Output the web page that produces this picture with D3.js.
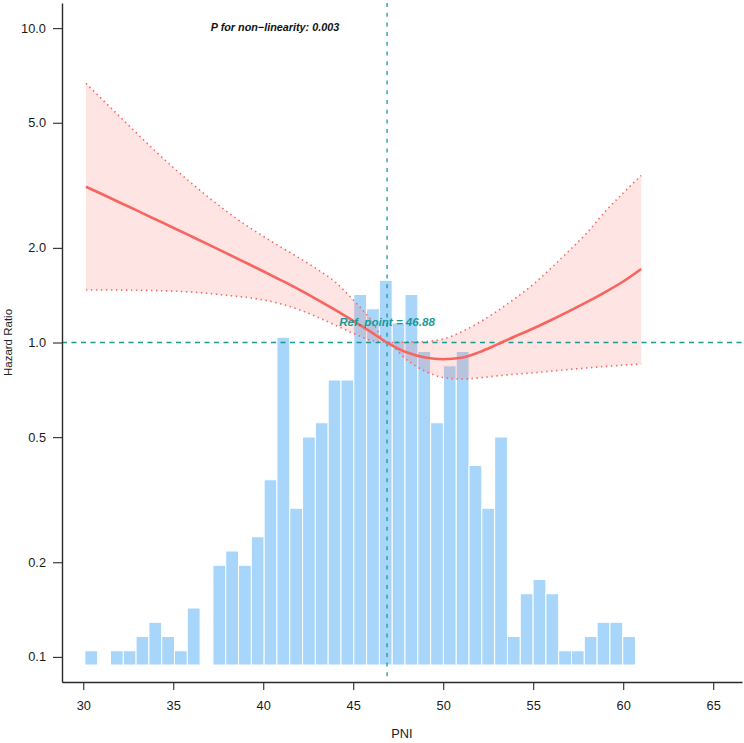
<!DOCTYPE html>
<html>
<head>
<meta charset="utf-8">
<script src="https://cdn.jsdelivr.net/npm/d3@7"></script>
<style>
  html, body { margin: 0; padding: 0; background: #fff; }
  svg { display: block; font-family: Arial, "Liberation Sans", Helvetica, sans-serif; }
</style>
</head>
<body>
<svg id="chart" width="744" height="743"></svg>
<script>
// ---------- data ----------
const pni = [30.15, 31, 32, 33, 34, 35, 36, 37, 38, 39, 40, 41, 42, 43, 44, 45, 46, 46.88,
             48, 49, 50, 51, 52, 53, 54, 55, 56, 57, 58, 59, 60, 61];
const hr = [3.130, 2.972, 2.794, 2.626, 2.467, 2.318, 2.177, 2.044, 1.918, 1.798, 1.685, 1.577,
            1.473, 1.370, 1.270, 1.172, 1.079, 1.000, 0.929, 0.896, 0.885, 0.894, 0.932, 0.986,
            1.047, 1.108, 1.179, 1.259, 1.346, 1.447, 1.563, 1.713];
const hrLower = [1.469, 1.469, 1.468, 1.466, 1.463, 1.457, 1.447, 1.432, 1.412, 1.393, 1.366, 1.326,
                 1.272, 1.205, 1.136, 1.070, 1.016, 1.000, 0.878, 0.810, 0.774, 0.765, 0.772, 0.783,
                 0.793, 0.801, 0.811, 0.821, 0.830, 0.839, 0.847, 0.854];
const hrUpper = [6.674, 5.972, 5.253, 4.614, 4.066, 3.603, 3.216, 2.885, 2.604, 2.371, 2.177, 2.008,
                 1.857, 1.710, 1.557, 1.365, 1.179, 1.000, 1.003, 1.007, 1.026, 1.080, 1.158, 1.259,
                 1.382, 1.531, 1.726, 1.960, 2.238, 2.610, 2.989, 3.398];
const binStart = 30.09;
const binWidth = 0.7115;
const binCounts = [1, 0, 1, 1, 2, 3, 2, 1, 4, 0,
                   7, 8, 7, 9, 13, 23, 11, 16, 17, 20,
                   20, 26, 25, 27, 24, 26, 22, 17, 21, 22,
                   14, 11, 16, 2, 5, 6, 5, 1, 1, 2,
                   3, 3, 2];
const xTicks = [30, 35, 40, 45, 50, 55, 60, 65];
const yTicks = [0.1, 0.2, 0.5, 1, 2, 5, 10];
const refPoint = 46.88;
const refHR = 1;
const pLabel = "P for non\u2212linearity: 0.003";
const refLabel = "Ref. point = 46.88";
const xLabel = "PNI";
const yLabel = "Hazard Ratio";

// ---------- layout ----------
const svg = d3.select("#chart");
const pL = 62, pR = 742, pT = 3, pB = 682;

const x = d3.scaleLinear().domain([28.82, 66.6]).range([pL, pR]);
const y = d3.scaleLog().domain([0.0832, 12.02]).range([pB, pT]);
const yHist = d3.scaleLinear().domain([0, d3.max(binCounts)]).range([665, 665 - 14.25 * d3.max(binCounts)]);

const colRed = "#f8645f";
const colTeal = "#1b9893";
const colBar = "#a8d6fb";

// histogram
const bins = binCounts.map((c, i) => ({ x0: binStart + i * binWidth, x1: binStart + (i + 1) * binWidth, c }));
svg.append("g").selectAll("rect")
  .data(bins.filter(d => d.c > 0))
  .join("rect")
  .attr("x", d => x(d.x0))
  .attr("width", d => x(d.x1) - x(d.x0))
  .attr("y", d => yHist(d.c))
  .attr("height", d => yHist(0) - yHist(d.c))
  .attr("fill", colBar)
  .attr("stroke", "#ffffff")
  .attr("stroke-width", 1);

const rows = pni.map((v, i) => ({ x: v, hr: hr[i], lo: hrLower[i], hi: hrUpper[i] }));
const crv = d3.curveMonotoneX;

// ribbon
svg.append("path")
  .datum(rows)
  .attr("d", d3.area().x(d => x(d.x)).y0(d => y(d.lo)).y1(d => y(d.hi)).curve(crv))
  .attr("fill", "rgba(248,118,109,0.2)")
  .attr("stroke", "none");

// CI dotted borders
["lo", "hi"].forEach(k => {
  svg.append("path")
    .datum(rows)
    .attr("d", d3.line().x(d => x(d.x)).y(d => y(d[k])).curve(crv))
    .attr("fill", "none")
    .attr("stroke", colRed)
    .attr("stroke-width", 1.6)
    .attr("stroke-dasharray", "1.4,3.6");
});

// reference dashed lines
svg.append("line")
  .attr("x1", pL).attr("x2", pR)
  .attr("y1", y(refHR)).attr("y2", y(refHR))
  .attr("stroke", colTeal).attr("stroke-width", 1.3).attr("stroke-dasharray", "5,4.5");
svg.append("line")
  .attr("x1", x(refPoint)).attr("x2", x(refPoint))
  .attr("y1", pT).attr("y2", pB)
  .attr("stroke", colTeal).attr("stroke-width", 1.3).attr("stroke-dasharray", "4,5.7");

// main curve
svg.append("path")
  .datum(rows)
  .attr("d", d3.line().x(d => x(d.x)).y(d => y(d.hr)).curve(crv))
  .attr("fill", "none")
  .attr("stroke", colRed)
  .attr("stroke-width", 2.6);

// axes
const xAxis = svg.append("g")
  .attr("transform", `translate(0,${pB})`)
  .call(d3.axisBottom(x).tickValues(xTicks).tickSize(8).tickPadding(11).tickSizeOuter(0));
const yAxis = svg.append("g")
  .attr("transform", `translate(${pL},0)`)
  .call(d3.axisLeft(y).tickValues(yTicks).tickFormat(d3.format(".1f")).tickSize(9).tickPadding(7).tickSizeOuter(0));
[xAxis, yAxis].forEach(g => {
  g.selectAll(".domain").attr("stroke", "#2b2b2b").attr("stroke-width", 1.4);
  g.selectAll(".tick line").attr("stroke", "#2b2b2b").attr("stroke-width", 1.1);
  g.selectAll(".tick text").attr("fill", "#1a1a1a").style("font-size", "12.8px")
    .style("font-family", "Arial, 'Liberation Sans', sans-serif");
});

// axis titles
svg.append("text")
  .attr("x", (pL + pR) / 2).attr("y", 738)
  .attr("text-anchor", "middle")
  .style("font-size", "12.8px").attr("fill", "#222")
  .text(xLabel);
svg.append("text")
  .attr("transform", `translate(12,${(pT + pB) / 2}) rotate(-90)`)
  .attr("text-anchor", "middle")
  .style("font-size", "11.5px").attr("fill", "#222")
  .text(yLabel);

// annotations
svg.append("text")
  .attr("x", 275).attr("y", 31)
  .attr("text-anchor", "middle")
  .style("font-size", "10.8px").style("font-weight", "bold").style("font-style", "italic")
  .attr("fill", "#111")
  .text(pLabel);
svg.append("text")
  .attr("x", x(refPoint)).attr("y", 326)
  .attr("text-anchor", "middle")
  .style("font-size", "11.6px").style("font-weight", "bold").style("font-style", "italic")
  .attr("fill", colTeal)
  .text(refLabel);
</script>
</body>
</html>
